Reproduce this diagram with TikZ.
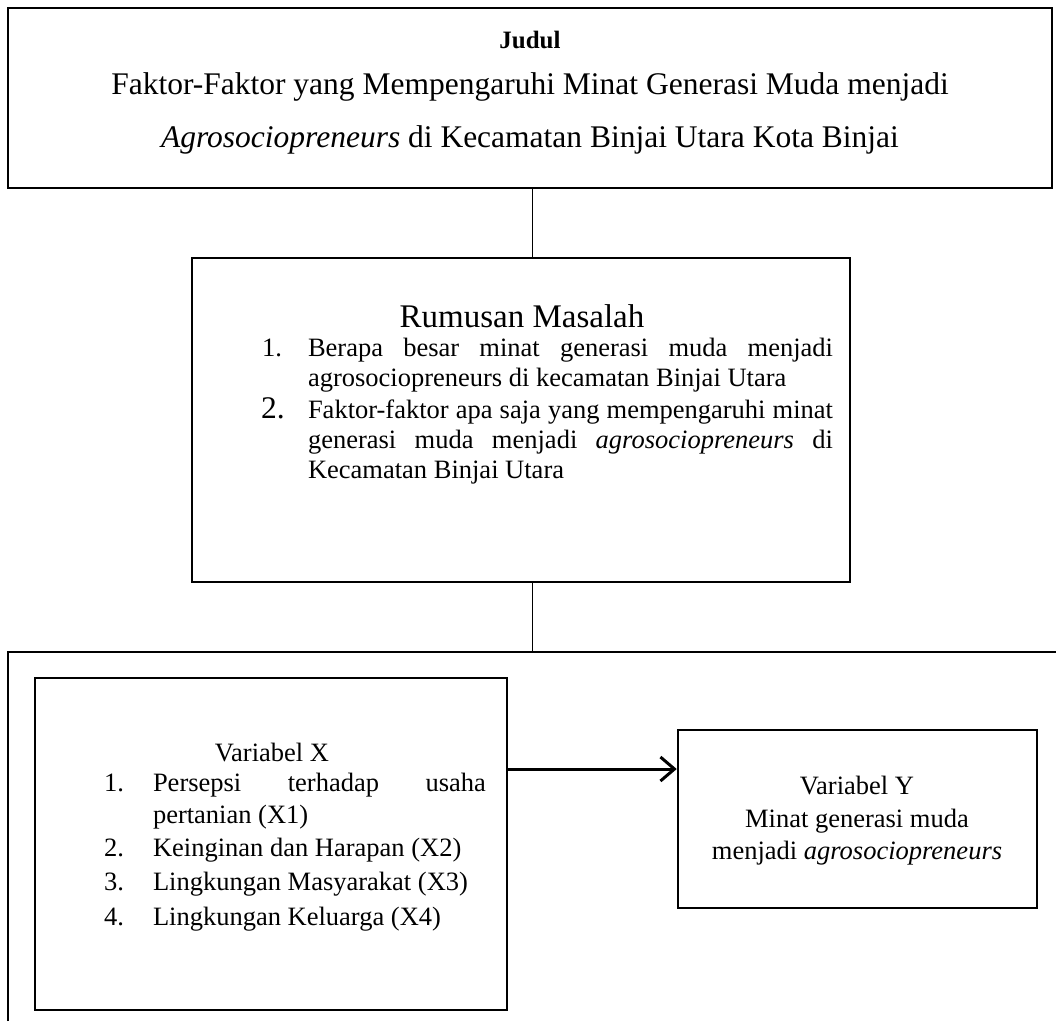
\documentclass[tikz,border=0pt]{standalone}
\usepackage{fontspec}
\setmainfont{Liberation Serif}
\usetikzlibrary{arrows.meta}
\newcommand{\nohyph}{\hyphenpenalty=10000 \exhyphenpenalty=10000 \tolerance=10000 }
\tikzset{
  box/.style={draw, line width=2.5pt, rectangle, inner sep=0pt},
  conn/.style={draw, line width=1pt},
  flowarrow/.style={draw, line width=3pt, -{Straight Barb[length=14pt,width=24pt,line width=3pt]}},
  txt/.style={inner sep=0pt, outer sep=0pt},
  body/.style={font=\fontsize{26.5}{30}\selectfont\nohyph},
  bodywide/.style={font=\fontsize{26.5}{32.5}\selectfont\nohyph},
  big/.style={font=\fontsize{31.5}{34}\selectfont},
  jtext/.style={txt, anchor=base west, align=justify},
}
\begin{document}
\begin{tikzpicture}[x=1pt,y=-1pt]
\useasboundingbox (0,0) rectangle (1056,1021);
% top box
\node[box, minimum width=1044pt, minimum height=180pt] (top) at (530,98) {};
\node[txt, font=\fontsize{25}{28}\selectfont\bfseries] (judul) at (530,40) {Judul};
\node[txt, big] (t1) at (530,87) {Faktor-Faktor yang Mempengaruhi Minat Generasi Muda menjadi};
\node[txt, big] (t2) at (530,140) {\textit{Agrosociopreneurs} di Kecamatan Binjai Utara Kota Binjai};
% middle box
\node[box, minimum width=658pt, minimum height=324pt] (mid) at (521,420) {};
\node[txt, font=\fontsize{33}{36}\selectfont] (rm) at (522,316) {Rumusan Masalah};
\node[txt, body, anchor=base west] (n1) at (262,356) {1.};
\node[jtext, body, text width=525pt] (r1) at (308,356) {Berapa besar minat generasi muda menjadi agrosociopreneurs di kecamatan Binjai Utara};
\node[txt, big, anchor=base west] (n2) at (261,418) {2.};
\node[jtext, body, text width=525pt] (r2) at (308,418) {Faktor-faktor apa saja yang mempengaruhi minat generasi muda menjadi \textit{agrosociopreneurs} di Kecamatan Binjai Utara};
% connectors
\coordinate (cx) at (532,0);
\coordinate (outertop) at (532,652);
\draw[conn] (top.south -| cx) -- (mid.north -| cx);
\draw[conn] (mid.south -| cx) -- (outertop);
% outer bottom frame (open right and bottom)
\coordinate (obl) at (8,1021);
\coordinate (otl) at (8,652);
\coordinate (otr) at (1056,652);
\draw[line width=2.5pt] (obl) -- (otl) -- (otr);
% Variabel X
\node[box, minimum width=472pt, minimum height=332pt] (vx) at (271,844) {};
\node[txt, bodywide] (vxt) at (272,752) {Variabel X};
\node[txt, bodywide, anchor=base west] (x1n) at (104,791) {1.};
\node[jtext, bodywide, text width=333pt] (x1) at (153,791) {Persepsi terhadap usaha pertanian (X1)};
\node[txt, bodywide, anchor=base west] (x2n) at (104,856) {2.};
\node[txt, bodywide, anchor=base west] (x2) at (153,856) {Keinginan dan Harapan (X2)};
\node[txt, bodywide, anchor=base west] (x3n) at (104,890) {3.};
\node[txt, bodywide, anchor=base west] (x3) at (153,890) {Lingkungan Masyarakat (X3)};
\node[txt, bodywide, anchor=base west] (x4n) at (104,925) {4.};
\node[txt, bodywide, anchor=base west] (x4) at (153,925) {Lingkungan Keluarga (X4)};
% Variabel Y
\node[box, minimum width=359pt, minimum height=178pt] (vy) at (857.5,819) {};
\node[txt, align=center, bodywide] (vyt) at (857,821) {Variabel Y\\Minat generasi muda\\menjadi \textit{agrosociopreneurs}};
% arrow
\coordinate (ay) at (0,769);
\draw[flowarrow] (vx.east |- ay) -- (vy.west |- ay);
\end{tikzpicture}
\end{document}
